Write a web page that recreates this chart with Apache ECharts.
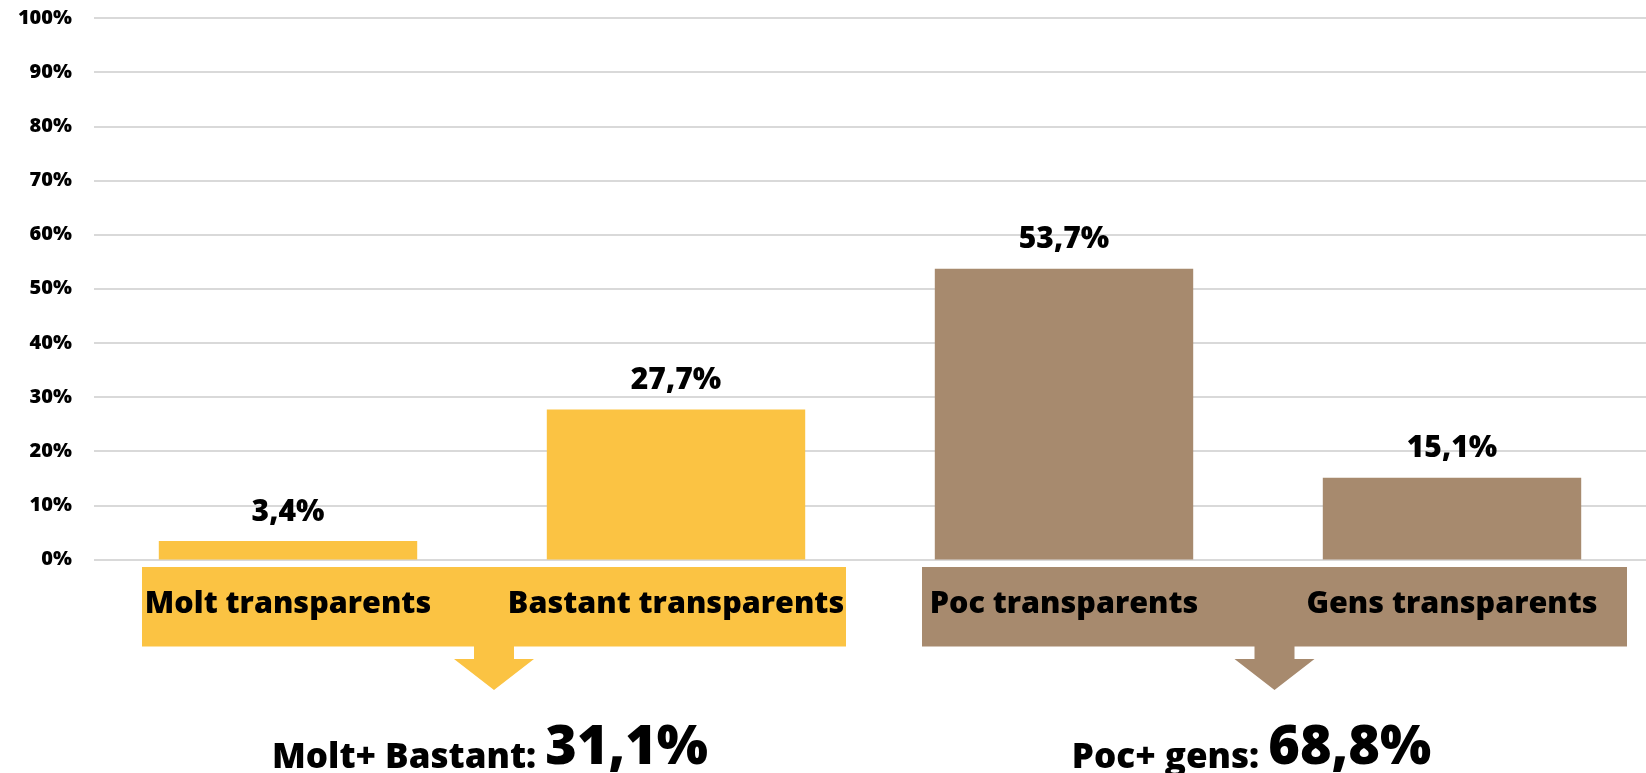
<!DOCTYPE html>
<html>
<head>
<meta charset="utf-8">
<script src="https://cdn.jsdelivr.net/npm/echarts@6/dist/echarts.min.js"></script>
<style>
  html, body { margin: 0; padding: 0; background: #fff; }
  #main { width: 1646px; height: 773px; }
</style>
</head>
<body>
<div id="main"></div>
<script>
// data
var categories = ['Molt transparents', 'Bastant transparents', 'Poc transparents', 'Gens transparents'];
var values = [3.4, 27.7, 53.7, 15.1];
var yTicks = [0, 10, 20, 30, 40, 50, 60, 70, 80, 90, 100];
var groupNames = ['Molt+ Bastant: ', 'Poc+ gens: '];
var groupTotals = [31.1, 68.8];
var groupMembers = [[0, 1], [2, 3]];

var YELLOW = '#FBC343';
var BROWN = '#A78A6E';
var barColors = [YELLOW, YELLOW, BROWN, BROWN];
var groupColors = [YELLOW, BROWN];
var FONT = '"Open Sans", sans-serif';

var fmt = function (v) {
  return v.toFixed(1).replace('.', ',') + '%';
};

var myChart = echarts.init(document.getElementById('main'));

var option = {
  animation: false,
  grid: { left: 94, right: 0, top: 18, bottom: 213.5 },
  xAxis: {
    type: 'category',
    data: categories,
    z: 10,
    axisLine: { show: false },
    axisTick: { show: false },
    axisLabel: {
      interval: 0,
      margin: 30,
      color: '#000',
      fontFamily: FONT,
      fontWeight: 800,
      fontSize: 30.5,
      lineHeight: 30
    }
  },
  yAxis: {
    type: 'value',
    min: yTicks[0],
    max: yTicks[yTicks.length - 1],
    interval: 10,
    axisLabel: {
      margin: 22,
      color: '#000',
      fontFamily: FONT,
      fontWeight: 800,
      fontSize: 20,
      formatter: '{value}%'
    },
    splitLine: { lineStyle: { color: '#D9D9D9', width: 2 } }
  },
  series: [{
    type: 'bar',
    barWidth: '66.6%',
    data: values.map(function (v, i) {
      return { value: v, itemStyle: { color: barColors[i] } };
    }),
    label: {
      show: true,
      position: 'top',
      distance: 14,
      color: '#000',
      fontFamily: FONT,
      fontWeight: 800,
      fontSize: 30,
      formatter: function (p) { return fmt(p.value); }
    }
  }]
};

myChart.setOption(option);

// group boxes, arrows and totals placed from the axis positions
var graphics = [];
var boxPad = [[146, 170], [142, 175]];
var textShift = [-4, -23];
groupMembers.forEach(function (m, g) {
  var x0 = myChart.convertToPixel({ xAxisIndex: 0 }, categories[m[0]]) - boxPad[g][0];
  var x1 = myChart.convertToPixel({ xAxisIndex: 0 }, categories[m[1]]) + boxPad[g][1];
  var mid = (x0 + x1) / 2;
  graphics.push({
    type: 'rect', z: -5,
    shape: { x: x0, y: 567, width: x1 - x0, height: 79.5 },
    style: { fill: groupColors[g] }
  });
  graphics.push({
    type: 'polygon', z: -5,
    shape: { points: [
      [mid - 20, 646], [mid + 20, 646], [mid + 20, 659], [mid + 40, 659],
      [mid, 690], [mid - 40, 659], [mid - 20, 659]
    ] },
    style: { fill: groupColors[g] }
  });
  graphics.push({
    type: 'text', z: 5,
    x: mid + textShift[g], y: 749,
    style: {
      text: '{a|' + groupNames[g] + '}{b|' + fmt(groupTotals[g]) + '}',
      align: 'center',
      verticalAlign: 'middle',
      fill: '#000',
      rich: {
        a: { fontFamily: FONT, fontWeight: 800, fontSize: 35, lineHeight: 36, fill: '#000', verticalAlign: 'bottom' },
        b: { fontFamily: FONT, fontWeight: 800, fontSize: 54, lineHeight: 54, fill: '#000', verticalAlign: 'bottom' }
      }
    }
  });
});

myChart.setOption({ graphic: graphics });
</script>
</body>
</html>
